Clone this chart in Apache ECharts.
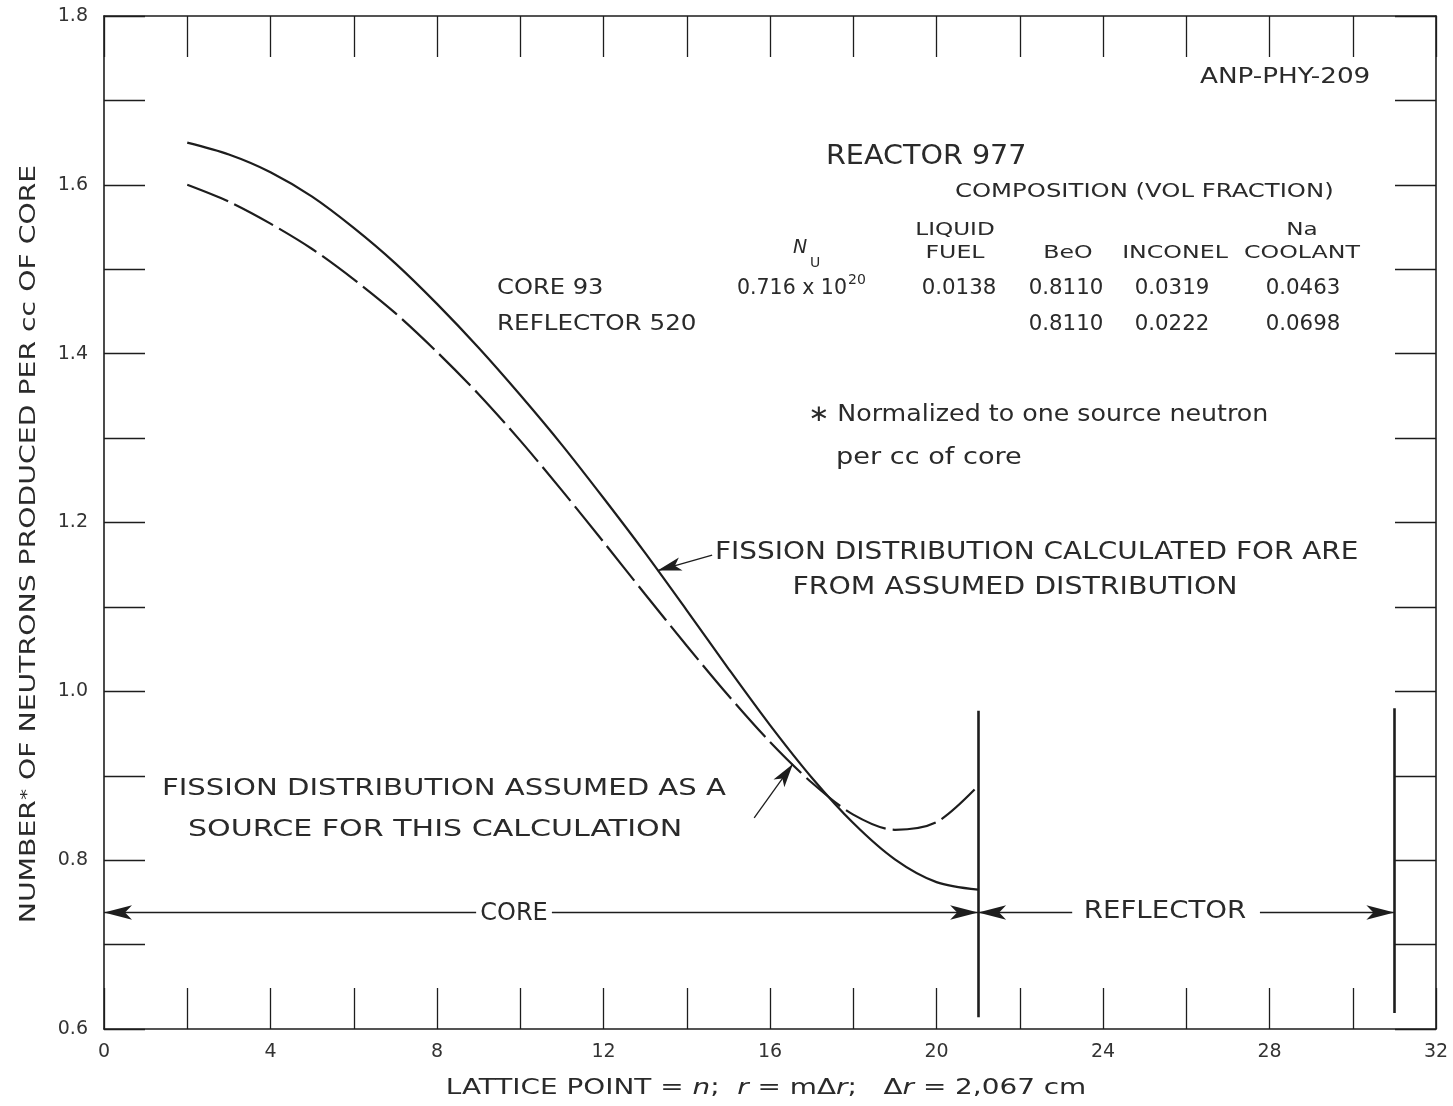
<!DOCTYPE html>
<html>
<head>
<meta charset="utf-8">
<title>Reactor 977 – fission distribution</title>
<script src="https://cdn.jsdelivr.net/npm/echarts/dist/echarts.min.js"></script>
<style>
  html, body { margin: 0; padding: 0; background: #ffffff; }
  #chart { width: 1453px; height: 1106px; }
</style>
</head>
<body>
<div id="chart"></div>
<script>
// Lattice points across the core (n = 2 … 21)
const latticePoints = [2, 3, 4, 5, 6, 7, 8, 9, 10, 11, 12, 13, 14, 15, 16, 17, 18, 19, 20, 21];

// Fission distribution calculated from the assumed source (solid curve)
const calculatedFission = [1.650, 1.636, 1.615, 1.586, 1.549, 1.507, 1.459, 1.407, 1.351, 1.292,
                           1.229, 1.164, 1.096, 1.027, 0.960, 0.898, 0.844, 0.801, 0.774, 0.765];

// Fission distribution assumed as the source (dashed curve)
const assumedFission = [1.600, 1.580, 1.554, 1.524, 1.488, 1.448, 1.402, 1.352, 1.297, 1.238,
                        1.177, 1.115, 1.054, 0.995, 0.940, 0.892, 0.854, 0.836, 0.845, 0.888];

// Region boundaries (lattice points) and the height of the region arrows
const coreRegion = [0, 21];
const reflectorRegion = [21, 31];
const regionArrowLevel = 0.738;
const boundaryExtent = [0.614, 0.977];

// Axis ranges and tick steps
const xRange = [0, 32];
const xTickStep = 2;
const xLabelStep = 4;
const yRange = [0.6, 1.8];
const yTickStep = 0.1;
const yLabelStep = 0.2;

// Composition table
const compositionHeaders = [['LIQUID', 'FUEL'], ['', 'BeO'], ['', 'INCONEL'], ['Na', 'COOLANT']];
const coreComposition = ['0.0138', '0.8110', '0.0319', '0.0463'];
const reflectorComposition = ['', '0.8110', '0.0222', '0.0698'];

const INK = '#1d1d1d';
const TEXT = '#2a2a2a';
const FONT = '"DejaVu Sans", "Liberation Sans", sans-serif';

const chart = echarts.init(document.getElementById('chart'), null, { renderer: 'canvas' });

const pairs = (xs, ys) => xs.map((x, i) => [x, ys[i]]);

function frameAxis(extra) {
  return Object.assign({
    type: 'value',
    axisLine: { show: true, onZero: false, lineStyle: { color: INK, width: 1.6 } },
    axisTick: { show: true, inside: true, length: 41, lineStyle: { color: INK, width: 1.3 } },
    splitLine: { show: false },
    axisLabel: { show: false }
  }, extra);
}

const tickLabelStyle = { color: '#333', fontSize: 19, fontFamily: FONT };

// Stencil-style lettering: DejaVu Sans, stretched sideways to the wide template spacing
function txt(text, x, y, size, align, sx, extra) {
  return {
    type: 'text', x: x, y: y, scaleX: sx || 1, silent: true,
    style: Object.assign({
      text: text, fontSize: size, fontFamily: FONT, fill: TEXT,
      align: align || 'left', verticalAlign: 'middle'
    }, extra || {})
  };
}

const headerCols = [955, 1068, 1175, 1302];
const valueCols = [959, 1066, 1172, 1303];
const graphics = [
  txt('ANP-PHY-209', 1200, 78, 20.5, 'left', 1.28),
  txt('REACTOR 977', 826, 157, 26, 'left', 1.1),
  txt('COMPOSITION (VOL FRACTION)', 955, 192, 19, 'left', 1.28),
  txt('N', 800, 248, 19, 'center', 1, { fontStyle: 'italic' }),
  txt('U', 815, 263, 14, 'center', 1),
  txt('CORE 93', 497, 289, 20.5, 'left', 1.18),
  txt('0.716 x 10', 737, 289, 20.5, 'left', 1.0),
  txt('20', 848, 280, 14, 'left', 1),
  txt('REFLECTOR 520', 497, 325, 20.5, 'left', 1.2),
  txt('\u2217 Normalized to one source neutron', 808, 415, 23, 'left', 1.1),
  txt('per cc of core', 836, 458, 23, 'left', 1.18),
  txt('FISSION DISTRIBUTION CALCULATED FOR ARE', 715, 553, 24.5, 'left', 1.14),
  txt('FROM ASSUMED DISTRIBUTION', 1015, 588, 24.5, 'center', 1.16),
  txt('FISSION DISTRIBUTION ASSUMED AS A', 162, 789, 23.5, 'left', 1.24),
  txt('SOURCE FOR THIS CALCULATION', 188, 830, 23.5, 'left', 1.28),
  txt('CORE', 514, 914, 24, 'center', 1.0),
  txt('REFLECTOR', 1165, 912, 24, 'center', 1.15),
  {
    type: 'text', x: 30, y: 544, rotation: Math.PI / 2, scaleX: 1.38, silent: true,
    style: {
      text: 'NUMBER{sup|*} OF NEUTRONS PRODUCED PER cc OF CORE',
      fontSize: 20.5, fontFamily: FONT, fill: TEXT, align: 'center', verticalAlign: 'middle',
      rich: { sup: { fontSize: 16, fontFamily: FONT, fill: TEXT, verticalAlign: 'top', lineHeight: 14 } }
    }
  },
  {
    type: 'text', x: 766, y: 1089, scaleX: 1.36, silent: true,
    style: {
      text: 'LATTICE POINT = {i|n};  {i|r} = m\u0394{i|r};   \u0394{i|r} = 2,067 cm',
      fontSize: 20.5, fontFamily: FONT, fill: TEXT, align: 'center', verticalAlign: 'middle',
      rich: { i: { fontStyle: 'italic', fontSize: 20.5, fontFamily: FONT, fill: TEXT } }
    }
  }
];
compositionHeaders.forEach((h, i) => {
  if (h[0]) graphics.push(txt(h[0], headerCols[i], 230, 18.5, 'center', 1.25));
  graphics.push(txt(h[1], headerCols[i], 253, 18.5, 'center', 1.28));
});
coreComposition.forEach((v, i) => { if (v) graphics.push(txt(v, valueCols[i], 289, 20.5, 'center', 1.04)); });
reflectorComposition.forEach((v, i) => { if (v) graphics.push(txt(v, valueCols[i], 325, 20.5, 'center', 1.04)); });

// Annotation lines: region boundaries, region arrows and leader arrows
const arrowHead = { symbol: 'arrow', symbolSize: [11, 28] };
const leaderHead = { symbol: 'arrow', symbolSize: [10, 24] };
const plain = { symbol: 'none' };
const thin = { color: INK, width: 1.3, type: 'solid' };
const heavy = { color: INK, width: 2.6, type: 'solid' };

const annotationLines = [
  [Object.assign({ coord: [coreRegion[1], boundaryExtent[0]], lineStyle: heavy }, plain),
   Object.assign({ coord: [coreRegion[1], boundaryExtent[1]] }, plain)],
  [Object.assign({ coord: [reflectorRegion[1], boundaryExtent[0] + 0.005], lineStyle: heavy }, plain),
   Object.assign({ coord: [reflectorRegion[1], boundaryExtent[1] + 0.003] }, plain)],
  // CORE arrow, broken around its label
  [Object.assign({ coord: [8.94, regionArrowLevel], lineStyle: thin }, plain),
   Object.assign({ coord: [coreRegion[0], regionArrowLevel] }, arrowHead)],
  [Object.assign({ coord: [10.76, regionArrowLevel], lineStyle: thin }, plain),
   Object.assign({ coord: [coreRegion[1], regionArrowLevel] }, arrowHead)],
  // REFLECTOR arrow, broken around its label
  [Object.assign({ coord: [23.26, regionArrowLevel], lineStyle: thin }, plain),
   Object.assign({ coord: [reflectorRegion[0], regionArrowLevel] }, arrowHead)],
  [Object.assign({ coord: [27.77, regionArrowLevel], lineStyle: thin }, plain),
   Object.assign({ coord: [reflectorRegion[1], regionArrowLevel] }, arrowHead)],
  // leader to the calculated curve
  [Object.assign({ coord: [14.61, 1.1615], lineStyle: thin }, plain),
   Object.assign({ coord: [13.3, 1.143] }, leaderHead)],
  // leader to the assumed curve
  [Object.assign({ coord: [15.62, 0.850], lineStyle: thin }, plain),
   Object.assign({ coord: [16.55, 0.914] }, leaderHead)]
];

const option = {
  animation: false,
  backgroundColor: '#ffffff',
  grid: { left: 104, right: 17, top: 16, bottom: 77, containLabel: false },
  xAxis: [
    frameAxis({
      position: 'bottom', min: xRange[0], max: xRange[1], interval: xTickStep,
      axisLabel: Object.assign({
        show: true, margin: 14,
        formatter: v => (Math.round(v) % xLabelStep === 0 ? String(Math.round(v)) : '')
      }, tickLabelStyle)
    }),
    frameAxis({ position: 'top', min: xRange[0], max: xRange[1], interval: xTickStep })
  ],
  yAxis: [
    frameAxis({
      position: 'left', min: yRange[0], max: yRange[1], interval: yTickStep,
      axisLabel: Object.assign({
        show: true, margin: 16,
        formatter: v => (Math.round(v * 10) % Math.round(yLabelStep * 10) === 0 ? v.toFixed(1) : '')
      }, tickLabelStyle)
    }),
    frameAxis({ position: 'right', min: yRange[0], max: yRange[1], interval: yTickStep })
  ],
  series: [
    {
      name: 'Calculated',
      type: 'line',
      data: pairs(latticePoints, calculatedFission),
      smooth: 0.3,
      symbol: 'none',
      silent: true,
      lineStyle: { color: INK, width: 2.2 },
      markLine: {
        silent: true,
        animation: false,
        symbol: ['none', 'none'],
        label: { show: false },
        emphasis: { disabled: true },
        data: annotationLines
      }
    },
    {
      name: 'Assumed',
      type: 'line',
      data: pairs(latticePoints, assumedFission),
      smooth: 0.3,
      symbol: 'none',
      silent: true,
      lineStyle: { color: INK, width: 2.2, type: [44, 7] }
    }
  ],
  graphic: graphics
};

chart.setOption(option);
</script>
</body>
</html>
